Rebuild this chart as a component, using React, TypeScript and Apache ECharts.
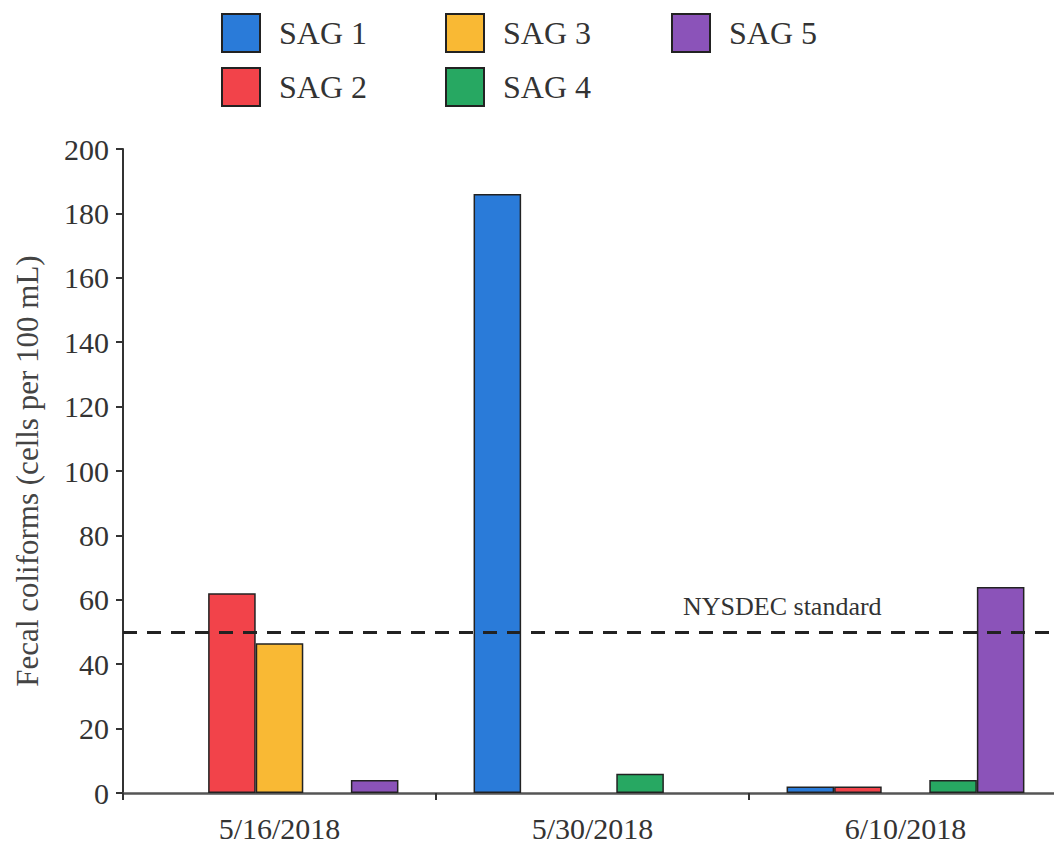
import React, { useEffect, useRef } from "react";
import * as echarts from "echarts";

const categories = ["5/16/2018", "5/30/2018", "6/10/2018"];
const seriesNames = ["SAG 1", "SAG 2", "SAG 3", "SAG 4", "SAG 5"];
const sag1 = [null, 186, 2];
const sag2 = [62, null, 2];
const sag3 = [46.5, null, null];
const sag4 = [null, 6, 4];
const sag5 = [4, null, 64];
const seriesValues = [sag1, sag2, sag3, sag4, sag5];
const colors = ["#2a7bd9", "#f2434a", "#f9b934", "#27a862", "#8b53b9"];
const standardValue = 50;
const standardLabel = "NYSDEC standard";
const yTitle = "Fecal coliforms (cells per 100 mL)";

const FONT = "'Liberation Serif', 'Times New Roman', serif";

export default function App() {
  const ref = useRef<HTMLDivElement>(null);
  useEffect(() => {
    if (!ref.current) return;
    const chart = echarts.init(ref.current, null, { renderer: "svg" });
    const series: any[] = seriesNames.map((name, i) => ({
      name,
      type: "bar",
      data: seriesValues[i],
      barGap: "0%",
      barCategoryGap: "24%",
      itemStyle: { color: colors[i], borderColor: "#222", borderWidth: 1.5 },
      ...(i === 0
        ? {
            markLine: {
              silent: true,
              symbol: "none",
              label: { show: false },
              lineStyle: { color: "#222", type: [14, 10], width: 3 },
              data: [{ yAxis: standardValue }],
            },
          }
        : {}),
    }));
    const legendCommon = {
      orient: "vertical",
      top: 13,
      padding: 0,
      itemWidth: 38,
      itemHeight: 38,
      itemGap: 14,
      icon: "rect",
      textStyle: { fontFamily: FONT, fontSize: 32, color: "#333", padding: [0, 0, 0, 14] },
    };
    chart.setOption({
      animation: false,
      backgroundColor: "#fff",
      textStyle: { fontFamily: FONT },
      legend: [
        { ...legendCommon, left: 221, data: [seriesNames[0], seriesNames[1]] },
        { ...legendCommon, left: 445, data: [seriesNames[2], seriesNames[3]] },
        { ...legendCommon, left: 671, data: [seriesNames[4]] },
      ],
      grid: { left: 123, top: 149, bottom: 54, right: -10 },
      xAxis: {
        type: "category",
        data: categories,
        axisLine: { lineStyle: { color: "#555", width: 2.5 } },
        axisTick: { show: true, length: 7, inside: false, lineStyle: { color: "#333", width: 2 } },
        axisLabel: { fontFamily: FONT, fontSize: 30, color: "#333", margin: 20 },
      },
      yAxis: {
        type: "value",
        min: 0,
        max: 200,
        interval: 20,
        name: yTitle,
        nameLocation: "middle",
        nameGap: 80,
        nameTextStyle: { fontFamily: FONT, fontSize: 31, color: "#444" },
        splitLine: { show: false },
        axisLine: { show: true, lineStyle: { color: "#333", width: 2 } },
        axisTick: { show: true, length: 7, lineStyle: { color: "#333", width: 2 } },
        axisLabel: { fontFamily: FONT, fontSize: 30, color: "#333", margin: 14 },
      },
      graphic: [
        {
          type: "text",
          left: 683,
          top: 593,
          style: { text: standardLabel, fontFamily: FONT, fontSize: 26, fill: "#333" },
        },
      ],
      series,
    });
    return () => chart.dispose();
  }, []);
  return <div ref={ref} style={{ width: 1062, height: 847, margin: -8 }} />;
}
